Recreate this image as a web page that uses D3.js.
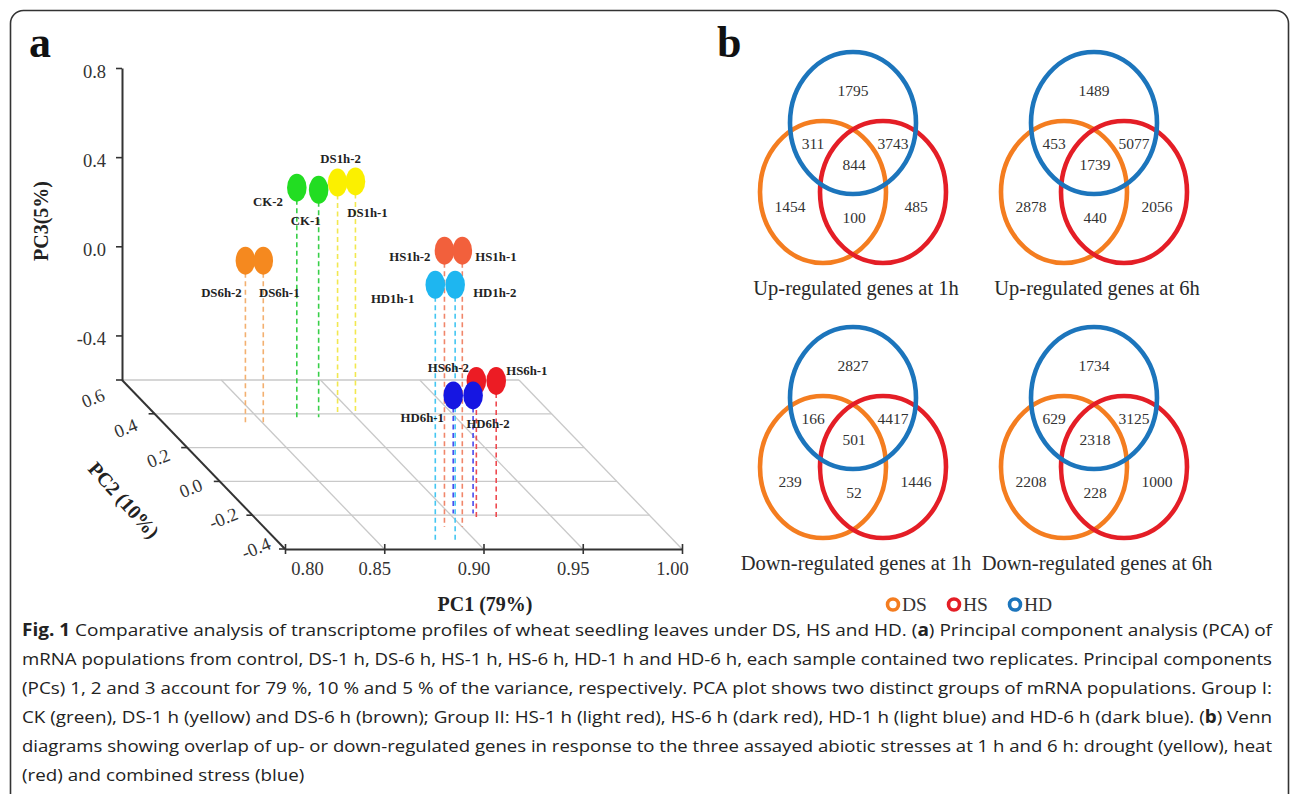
<!DOCTYPE html>
<html><head><meta charset="utf-8">
<script src="https://cdn.jsdelivr.net/npm/d3@7"></script>
<style>body{margin:0;background:#fff;} svg{display:block;}</style>
</head><body>
<svg id="c" width="1290" height="794"></svg>
<script>
// ---------------- DATA ----------------
const sampleNames  = ["DS6h-2","DS6h-1","CK-2","CK-1","DS1h-2","DS1h-1","HS1h-2","HS1h-1","HD1h-1","HD1h-2","HS6h-2","HS6h-1","HD6h-1","HD6h-2"];
const sampleGroups = ["DS6h","DS6h","CK","CK","DS1h","DS1h","HS1h","HS1h","HD1h","HD1h","HS6h","HS6h","HD6h","HD6h"];
const pc1Values = [0.840,0.849,0.870,0.881,0.893,0.902,0.891,0.900,0.879,0.889,0.912,0.922,0.902,0.912];
const pc2Values = [0.33,0.33,0.38,0.38,0.41,0.41,-0.27,-0.27,-0.36,-0.36,-0.21,-0.21,-0.19,-0.19];
const pc3Values = [0.14,0.14,0.43,0.42,0.43,0.435,0.64,0.64,0.555,0.555,0.01,0.01,-0.07,-0.07];
const pc1Ticks = [0.80,0.85,0.90,0.95,1.00];
const pc2Ticks = [0.6,0.4,0.2,0.0,-0.2,-0.4];
const pc3Ticks = [-0.4,0.0,0.4,0.8];

const vennSets   = ["DS","HS","HD"];
const vennTitles = ["Up-regulated genes at 1h","Up-regulated genes at 6h","Down-regulated genes at 1h","Down-regulated genes at 6h"];
// region order: HD only, DS∩HD, HS∩HD, DS∩HS∩HD, DS only, DS∩HS, HS only
const up1h   = [1795,311,3743,844,1454,100,485];
const up6h   = [1489,453,5077,1739,2878,440,2056];
const down1h = [2827,166,4417,501,239,52,1446];
const down6h = [1734,629,3125,2318,2208,228,1000];

const captionLines = [
  [["b","Fig. 1"],["n"," Comparative analysis of transcriptome profiles of wheat seedling leaves under DS, HS and HD. ("],["b","a"],["n",") Principal component analysis (PCA) of"]],
  [["n","mRNA populations from control, DS-1 h, DS-6 h, HS-1 h, HS-6 h, HD-1 h and HD-6 h, each sample contained two replicates. Principal components"]],
  [["n","(PCs) 1, 2 and 3 account for 79 %, 10 % and 5 % of the variance, respectively. PCA plot shows two distinct groups of mRNA populations. Group I:"]],
  [["n","CK (green), DS-1 h (yellow) and DS-6 h (brown); Group II: HS-1 h (light red), HS-6 h (dark red), HD-1 h (light blue) and HD-6 h (dark blue). ("],["b","b"],["n",") Venn"]],
  [["n","diagrams showing overlap of up- or down-regulated genes in response to the three assayed abiotic stresses at 1 h and 6 h: drought (yellow), heat"]],
  [["n","(red) and combined stress (blue)"]]
];

// ---------------- STYLE / LAYOUT ----------------
const groupFill = {DS6h:"#F5891F",CK:"#22DD22",DS1h:"#FBF000",HS1h:"#F2603C",HD1h:"#1EB6F0",HS6h:"#EC1C24",HD6h:"#1616E2"};
const groupLine = {DS6h:"#F3B070",CK:"#38CF48",DS1h:"#F2E850",HS1h:"#F0866A",HD1h:"#44C6F2",HS6h:"#EE4A50",HD6h:"#4A4AEE"};
const labelPos = { // [dx, dy, anchor] relative to marker centre
  "DS6h-2":[-24,32,"middle"],"DS6h-1":[16,32,"middle"],"CK-2":[-14,14,"end"],"CK-1":[-13,31,"middle"],
  "DS1h-2":[3,-24,"middle"],"DS1h-1":[12,31,"middle"],"HS1h-2":[-14,6,"end"],"HS1h-1":[13,6,"start"],
  "HD1h-1":[-21,14,"end"],"HD1h-2":[18,8,"start"],"HS6h-2":[-28,-13,"middle"],"HS6h-1":[10,-10,"start"],
  "HD6h-1":[-31,22,"middle"],"HD6h-2":[15,28,"middle"]};
const serif = "'Liberation Serif','Times New Roman',serif";
const vennColor = {DS:"#F47D20",HS:"#E41E26",HD:"#1C75BC"};

const svg = d3.select("#c");
svg.append("rect").attr("x",10.5).attr("y",10.5).attr("width",1278).attr("height",900)
  .attr("rx",13).attr("fill","none").attr("stroke","#333").attr("stroke-width",1.6);

// ---------------- PANEL A : 3D PCA ----------------
const origin = {x:122, y:380};
const depthVec = {x:163, y:169};
const x1 = d3.scaleLinear().domain([0.8,1.0]).range([0,397]);
const d2 = d3.scaleLinear().domain([0.6,-0.4]).range([0,1]);
const y3 = d3.scaleLinear().domain([-0.6,0.8]).range([380,68]);
function proj(a,b,c){ const t=d2(b); return [origin.x + x1(a) + t*depthVec.x, y3(c) + t*depthVec.y]; }
const floor = y3.domain()[0];
const gA = svg.append("g");

// grid
pc2Ticks.filter(v=>v!==-0.4).forEach(v=>{
  const p0=proj(0.8,v,floor), p1=proj(1.0,v,floor);
  gA.append("line").attr("x1",p0[0]).attr("y1",p0[1]).attr("x2",p1[0]).attr("y2",p1[1]).attr("stroke","#c9c9c9").attr("stroke-width",1.3);
});
pc1Ticks.filter(v=>v!==0.8).forEach(v=>{
  const p0=proj(v,0.6,floor), p1=proj(v,-0.4,floor);
  gA.append("line").attr("x1",p0[0]).attr("y1",p0[1]).attr("x2",p1[0]).attr("y2",p1[1]).attr("stroke","#c9c9c9").attr("stroke-width",1.3);
});

// PC3 axis
const axisC = d3.axisLeft(y3).tickValues(pc3Ticks).tickSizeInner(6).tickSizeOuter(0).tickPadding(10).tickFormat(d=>d.toFixed(1));
const gC = gA.append("g").attr("transform",`translate(${origin.x},0)`).call(axisC);
gC.select(".domain").attr("stroke","#333").attr("stroke-width",2);
gC.selectAll(".tick line").attr("stroke","#333").attr("stroke-width",1.6);
gC.selectAll("text").attr("font-family",serif).attr("font-size",18.5).attr("fill","#333").attr("dy","0.5em");

// PC2 axis (diagonal)
{
  const p0=proj(0.8,0.6,floor), p1=proj(0.8,-0.4,floor);
  gA.append("line").attr("x1",p0[0]).attr("y1",p0[1]).attr("x2",p1[0]).attr("y2",p1[1]).attr("stroke","#333").attr("stroke-width",2);
  pc2Ticks.forEach(v=>{
    const p=proj(0.8,v,floor);
    gA.append("line").attr("x1",p[0]-6).attr("y1",p[1]).attr("x2",p[0]).attr("y2",p[1]).attr("stroke","#333").attr("stroke-width",1.6);
    const lx=p[0]-29, ly=p[1]+18-(0.6-v)*19;
    gA.append("text").attr("x",lx).attr("y",ly).attr("dy","0.35em").attr("text-anchor","middle")
      .attr("transform",`rotate(-22,${lx},${ly})`).attr("font-family",serif).attr("font-size",18.5).attr("fill","#333")
      .text(v.toFixed(1));
  });
  gA.append("text").attr("transform",`translate(124,500) rotate(48)`).attr("text-anchor","middle").attr("dy","0.35em")
    .attr("font-family",serif).attr("font-weight","bold").attr("font-size",20).attr("fill","#222").text("PC2 (10%)");
}

// PC1 axis (front)
{
  const p0=proj(0.8,-0.4,floor);
  const axisA = d3.axisBottom(x1).tickValues(pc1Ticks).tickSizeInner(5).tickSizeOuter(0).tickPadding(8).tickFormat(d=>d.toFixed(2));
  const gX = gA.append("g").attr("transform",`translate(${p0[0]},${p0[1]})`).call(axisA);
  gX.select(".domain").attr("stroke","#333").attr("stroke-width",2);
  gX.selectAll(".tick line").attr("stroke","#333").attr("stroke-width",1.6).attr("y1",-5);
  gX.selectAll("text").attr("font-family",serif).attr("font-size",18.5).attr("fill","#333")
    .attr("dx",d=>d===0.8?22:-10);
  gA.append("text").attr("x",p0[0]+200).attr("y",611).attr("text-anchor","middle")
    .attr("font-family",serif).attr("font-weight","bold").attr("font-size",20).attr("fill","#222").text("PC1 (79%)");
}
gA.append("text").attr("transform","translate(41,221) rotate(-90)").attr("text-anchor","middle").attr("dy","0.35em")
  .attr("font-family",serif).attr("font-weight","bold").attr("font-size",20).attr("fill","#222").text("PC3(5%)");

// samples
const samples = sampleNames.map((n,i)=>({name:n,group:sampleGroups[i],pc1:pc1Values[i],pc2:pc2Values[i],pc3:pc3Values[i]}));
samples.forEach(s=>{
  const top=proj(s.pc1,s.pc2,s.pc3), bot=proj(s.pc1,s.pc2,floor);
  gA.append("line").attr("x1",top[0]).attr("y1",top[1]+12).attr("x2",bot[0]).attr("y2",bot[1])
    .attr("stroke",groupLine[s.group]).attr("stroke-width",1.6).attr("stroke-dasharray","5,3.5");
});
samples.forEach(s=>{
  const p=proj(s.pc1,s.pc2,s.pc3);
  gA.append("ellipse").attr("cx",p[0]).attr("cy",p[1]).attr("rx",9.8).attr("ry",14).attr("fill",groupFill[s.group]);
});
samples.forEach(s=>{
  const p=proj(s.pc1,s.pc2,s.pc3), L=labelPos[s.name];
  gA.append("text").attr("x",p[0]+L[0]).attr("y",p[1]+L[1]).attr("dy","0.35em").attr("text-anchor",L[2])
    .attr("font-family",serif).attr("font-weight","bold").attr("font-size",12.8).attr("fill","#222").text(s.name);
});
svg.append("text").attr("x",29).attr("y",57).attr("font-family",serif).attr("font-weight","bold").attr("font-size",44).attr("fill","#111").text("a");

// ---------------- PANEL B : VENN ----------------
svg.append("text").attr("x",717).attr("y",57).attr("font-family",serif).attr("font-weight","bold").attr("font-size",44).attr("fill","#111").text("b");
const vennData = [up1h,up6h,down1h,down6h];
const colX = d3.scalePoint().domain([0,1]).range([853,1094]);
const rowY = d3.scalePoint().domain([0,1]).range([123,398]);
const circleOff = {DS:[-30,69],HS:[30,69],HD:[0,0]};
const regionOff = [[0,-32],[-40,21],[40,21],[1,42],[-63,84],[1,95],[63,84]];
vennData.forEach((vals,k)=>{
  const cx=colX(k%2), cy=rowY(Math.floor(k/2));
  const g=svg.append("g");
  ["DS","HS","HD"].forEach(set=>{
    g.append("ellipse").attr("cx",cx+circleOff[set][0]).attr("cy",cy+circleOff[set][1]).attr("rx",63).attr("ry",71)
      .attr("fill","none").attr("stroke",vennColor[set]).attr("stroke-width",4.6);
  });
  vals.forEach((v,i)=>{
    g.append("text").attr("x",cx+regionOff[i][0]).attr("y",cy+regionOff[i][1]).attr("dy","0.35em").attr("text-anchor","middle")
      .attr("font-family",serif).attr("font-size",15.5).attr("fill","#333").text(v);
  });
  g.append("text").attr("x",cx+3).attr("y",cy+172).attr("text-anchor","middle")
    .attr("font-family",serif).attr("font-size",20.5).attr("fill","#2a2a2a").text(vennTitles[k]);
});
// legend
const legX = d3.scalePoint().domain(vennSets).range([893,1015]);
vennSets.forEach(s=>{
  svg.append("circle").attr("cx",legX(s)).attr("cy",604.5).attr("r",5.5).attr("fill","none").attr("stroke",vennColor[s]).attr("stroke-width",3.6);
  svg.append("text").attr("x",legX(s)+9).attr("y",611).attr("font-family",serif).attr("font-size",19.5).attr("fill","#333").text(s);
});

// ---------------- CAPTION ----------------
const capBase = 636, capStep = 28.9, capWidth = 1250;
const capTexts = captionLines.map((parts,i)=>{
  const t = svg.append("text").attr("x",22).attr("y",capBase+i*capStep)
    .attr("font-family","'Open Sans','Noto Sans',sans-serif").attr("font-size",17.2).attr("fill","#222");
  parts.forEach(p=>t.append("tspan").attr("font-weight",p[0]==="b"?"bold":"normal").text(p[1]));
  return t;
});
const natural = capTexts.map(t=>t.node().getComputedTextLength());
const ratio = d3.mean(natural.slice(0,5).map(n=>capWidth/n));
capTexts.forEach((t,i)=>{
  t.attr("textLength", i<5 ? capWidth : natural[i]*ratio).attr("lengthAdjust","spacingAndGlyphs");
});
</script>
</body></html>
